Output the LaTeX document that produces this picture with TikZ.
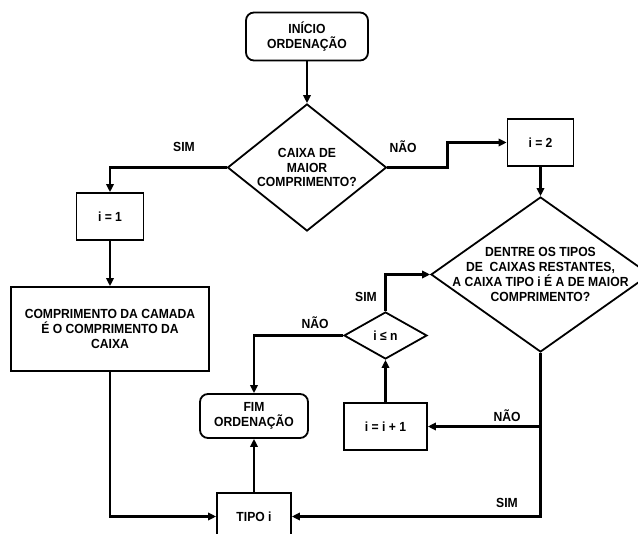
\documentclass[tikz,border=0pt]{standalone}
\usepackage{fontspec}
\setmainfont{Liberation Sans}[FakeStretch=0.92]
\usetikzlibrary{shapes.geometric,arrows.meta}
\newcommand\fz{\fontsize{13.2}{14.7}\selectfont\bfseries}
\begin{document}
\begin{tikzpicture}[x=1pt,y=-1pt,
  box/.style={draw, line width=1.8pt, inner sep=0pt, align=center, font=\fz},
  rbox/.style={box, rounded corners=8pt},
  dia/.style={draw, diamond, line width=1.8pt, inner sep=0pt},
  txt/.style={align=center, font=\fz, inner sep=0pt},
  lbl/.style={font=\fz, inner sep=0pt},
  conn/.style={line width=2.8pt, -{Triangle[length=8pt,width=7.5pt]}}]
\useasboundingbox (0,0) rectangle (638,534);
\clip (0,0) rectangle (638,534);
\fill[white] (0,0) rectangle (638,534);
% nodes
\node[rbox, minimum width=122pt, minimum height=48pt] (start) at (307,36.5) {INÍCIO\\ORDENAÇÃO};
\node[dia, minimum width=159pt, minimum height=127pt] (d1) at (307,167.5) {};
\node[txt] (d1t) at (d1) {CAIXA DE\\MAIOR\\COMPRIMENTO?};
\node[box, minimum width=66pt, minimum height=47pt] (i2) at (540.5,142.5) {i = 2};
\node[box, minimum width=67pt, minimum height=47pt] (i1) at (110,216.5) {i = 1};
\node[box, minimum width=198pt, minimum height=84pt] (comp) at (110,329) {COMPRIMENTO DA CAMADA\\É O COMPRIMENTO DA\\CAIXA};
\node[dia, minimum width=219pt, minimum height=155pt] (d2) at (540.5,274.5) {};
\node[txt] (d2t) at (d2) {DENTRE OS TIPOS\\DE\ \ CAIXAS RESTANTES,\\A CAIXA TIPO i É A DE MAIOR\\COMPRIMENTO?};
\node[box, minimum width=74pt, minimum height=47pt] (tipo) at (254,516.5) {TIPO i};
\node[rbox, minimum width=108pt, minimum height=44pt] (fim) at (254,416) {FIM\\ORDENAÇÃO};
\node[dia, minimum width=83pt, minimum height=47pt] (d3) at (385.5,335.5) {};
\node[txt] (d3t) at (d3) {i ≤ n};
\node[box, minimum width=83pt, minimum height=47pt] (inc) at (385.5,426.5) {i = i + 1};
\coordinate (j) at (d2.south |- inc.east);
% connectors
\draw[conn] (start) -- (d1);
\draw[conn] (d1.west) -| (i1.north);
\draw[conn] (d1.east) -- ++(60,0) |- (i2.west);
\draw[conn] (i2) -- (d2.north);
\draw[conn] (i1) -- (comp);
\draw[conn] (comp.south) |- (tipo.west);
\draw[conn] (tipo) -- (fim);
\draw[conn] (d3.west) -| (fim.north);
\draw[conn] (inc) -- (d3);
\draw[conn] (d3.north) |- (d2.west);
\draw[conn] (d2.south) |- (tipo.east);
\draw[conn] (j) -- (inc.east);
% labels
\node[lbl] (l1) at (184,147) {SIM};
\node[lbl] (l2) at (403,147) {NÃO};
\node[lbl] (l3) at (366,297) {SIM};
\node[lbl] (l4) at (315,323) {NÃO};
\node[lbl] (l5) at (507,415.5) {NÃO};
\node[lbl] (l6) at (507,503) {SIM};
\end{tikzpicture}
\end{document}
